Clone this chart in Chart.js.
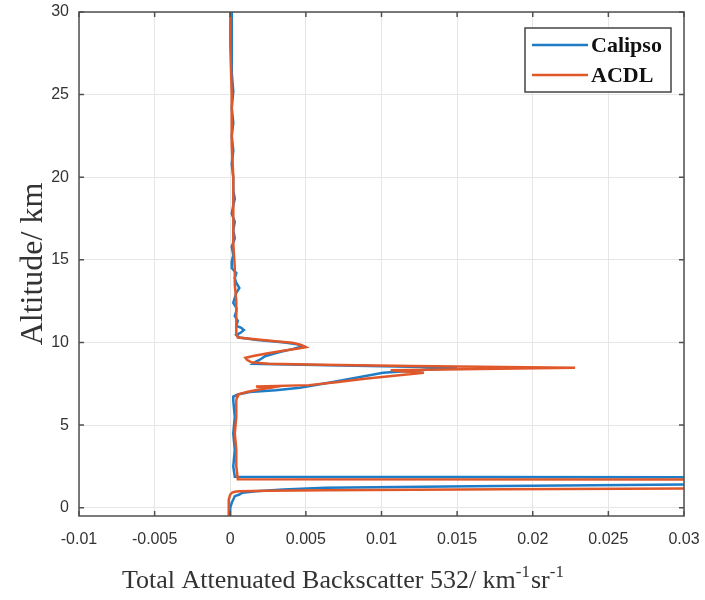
<!DOCTYPE html>
<html>
<head>
<meta charset="utf-8">
<script src="https://cdn.jsdelivr.net/npm/chart.js@4"></script>
<style>
  body { margin: 0; background: #fff; }
</style>
</head>
<body>
<canvas id="profile" width="705" height="600"></canvas>
<script>
// ticks
const xTicks = [-0.01, -0.005, 0, 0.005, 0.01, 0.015, 0.02, 0.025, 0.03];
const xTickLabels = ['-0.01', '-0.005', '0', '0.005', '0.01', '0.015', '0.02', '0.025', '0.03'];
const yTicks = [0, 5, 10, 15, 20, 25, 30];
const yTickLabels = ['0', '5', '10', '15', '20', '25', '30'];

// Calipso profile (altitude km / backscatter)
const calipsoAlt = [-0.5, 0.0, 0.3, 0.5, 0.7, 0.8, 0.91, 1.0, 1.1, 1.21, 1.3, 1.41, 1.55, 1.75, 1.84, 1.87,
  2.5, 3.5, 4.5, 5.5, 6.5, 6.73, 6.85, 7.0, 7.11, 7.26, 7.6, 7.9, 8.17, 8.35, 8.47, 8.55, 8.63, 8.71,
  8.85, 8.93, 9.05, 9.17, 9.3, 9.45, 9.6, 9.78, 9.9, 10.0, 10.15, 10.3, 10.45, 10.6, 10.75, 10.9,
  11.0, 11.3, 11.6, 11.9, 12.1, 12.4, 12.7, 13.0, 13.3, 13.6, 13.9, 14.2, 14.5, 14.9, 15.3, 15.8,
  16.3, 16.8, 17.3, 17.8, 18.3, 18.7, 19.2, 20.0, 20.8, 21.6, 22.5, 23.3, 24.2, 25.2, 26.3, 27.5, 28.7, 30.0];
const calipsoVal = [0.0000, 0.0000, 0.0001, 0.0002, 0.0003, 0.0006, 0.0008, 0.0017, 0.0035, 0.0063, 0.016, 0.030, 0.045, 0.045, 0.032, 0.0003,
  0.0002, 0.0003, 0.0002, 0.0003, 0.0002, 0.0002, 0.0005, 0.0013, 0.0030, 0.0046, 0.0067, 0.0085, 0.0101, 0.0130, 0.0150, 0.0110, 0.0065, 0.0015,
  0.0017, 0.0019, 0.0021, 0.0023, 0.0028, 0.0034, 0.0041, 0.0048, 0.0044, 0.0036, 0.0018, 0.0006, 0.0004, 0.0007, 0.0009, 0.0007,
  0.0004, 0.0005, 0.0003, 0.0004, 0.0004, 0.0002, 0.0003, 0.0004, 0.0006, 0.0004, 0.0003, 0.0004, 0.0001, 0.0001, 0.0002, 0.0001,
  0.0003, 0.0002, 0.0003, 0.0001, 0.0002, 0.0003, 0.0002, 0.0002, 0.0001, 0.0002, 0.0001, 0.0002, 0.0001, 0.0002, 0.0001, 0.0001, 0.0001, 0.0001];

// ACDL profile
const acdlAlt = [-0.5, 0.0, 0.5, 0.8, 0.9, 0.97, 1.0, 1.03, 1.06, 1.12, 1.17, 1.3, 1.5, 1.65, 1.7, 1.73,
  2.5, 3.5, 4.5, 5.5, 6.5, 6.73, 6.85, 7.0, 7.15, 7.26, 7.33, 7.42, 7.6, 7.8, 8.0, 8.17, 8.25, 8.32, 8.4, 8.47,
  8.52, 8.58, 8.65, 8.72, 8.8, 8.95, 9.07, 9.2, 9.35, 9.5, 9.62, 9.72, 9.85, 9.98, 10.08, 10.18, 10.3,
  10.5, 11.5, 12.5, 13.5, 14.5, 16.0, 18.0, 20.0, 22.0, 25.0, 28.0, 30.0];
const acdlVal = [-0.0001, -0.0001, -0.0001, 0.0000, 0.0001, 0.0003, 0.0006, 0.0025, 0.0063, 0.018, 0.030, 0.045, 0.050, 0.045, 0.035, 0.0005,
  0.0004, 0.0004, 0.0003, 0.0004, 0.0004, 0.00045, 0.0005, 0.0011, 0.0019, 0.0027, 0.0017, 0.0052, 0.0070, 0.0089, 0.0110, 0.0128, 0.0115, 0.0106, 0.0165, 0.0228,
  0.018, 0.012, 0.006, 0.0025, 0.0014, 0.0011, 0.0010, 0.0016, 0.0025, 0.0035, 0.0044, 0.0050, 0.0047, 0.0041, 0.0030, 0.0018, 0.0005,
  0.0004, 0.0004, 0.0004, 0.0003, 0.0003, 0.0002, 0.0002, 0.0002, 0.0001, 0.0001, 0.0000, 0.0000];

const toPoints = (alt, val) => alt.map((a, i) => ({ x: val[i], y: a }));

// box, inward ticks, legend and x title drawn like matlab
const boxPlugin = {
  id: 'box',
  afterDraw(chart) {
    const { ctx, chartArea: a, scales: { x, y } } = chart;
    ctx.save();
    ctx.strokeStyle = '#505050';
    ctx.lineWidth = 1.5;
    ctx.beginPath();
    x.ticks.forEach(t => {
      const px = x.getPixelForValue(t.value);
      ctx.moveTo(px, a.bottom); ctx.lineTo(px, a.bottom - 5);
      ctx.moveTo(px, a.top); ctx.lineTo(px, a.top + 5);
    });
    y.ticks.forEach(t => {
      const py = y.getPixelForValue(t.value);
      ctx.moveTo(a.left, py); ctx.lineTo(a.left + 5, py);
      ctx.moveTo(a.right, py); ctx.lineTo(a.right - 5, py);
    });
    ctx.stroke();
    ctx.strokeRect(a.left, a.top, a.right - a.left, a.bottom - a.top);

    // legend
    const lx = 525, ly = 28, lw = 146, lh = 64;
    ctx.fillStyle = '#fff';
    ctx.fillRect(lx, ly, lw, lh);
    ctx.strokeStyle = '#444';
    ctx.lineWidth = 1.5;
    ctx.strokeRect(lx, ly, lw, lh);
    ctx.font = 'bold 22px "Liberation Serif"';
    ctx.textBaseline = 'middle';
    chart.data.datasets.forEach((ds, i) => {
      const yy = ly + 17 + i * 30;
      ctx.strokeStyle = ds.borderColor;
      ctx.lineWidth = 2.5;
      ctx.beginPath();
      ctx.moveTo(lx + 7, yy); ctx.lineTo(lx + 63, yy);
      ctx.stroke();
      ctx.fillStyle = '#111';
      ctx.fillText(ds.label, lx + 66, yy + 1);
    });

    // x axis title with superscripts
    const parts = [['Total Attenuated Backscatter 532/ km', 0], ['-1', 1], ['sr', 0], ['-1', 1]];
    let tx = 122;
    const base = 588;
    ctx.fillStyle = '#333';
    ctx.textBaseline = 'alphabetic';
    parts.forEach(([s, sup]) => {
      ctx.font = sup ? '17px "Liberation Serif"' : '26px "Liberation Serif"';
      ctx.fillText(s, tx, sup ? base - 11 : base);
      tx += ctx.measureText(s).width + (sup ? 1 : 0);
    });
    ctx.restore();
  }
};

new Chart(document.getElementById('profile'), {
  type: 'scatter',
  data: {
    datasets: [
      {
        label: 'Calipso',
        data: toPoints(calipsoAlt, calipsoVal),
        showLine: true,
        borderColor: '#1f7cc6',
        backgroundColor: '#1f7cc6',
        borderWidth: 2.5,
        pointRadius: 0,
        order: 2
      },
      {
        label: 'ACDL',
        data: toPoints(acdlAlt, acdlVal),
        showLine: true,
        borderColor: '#e0582a',
        backgroundColor: '#e0582a',
        borderWidth: 2.5,
        pointRadius: 0,
        order: 1
      }
    ]
  },
  options: {
    responsive: false,
    animation: false,
    layout: { padding: { left: 0, top: 12, right: 21, bottom: 0 } },
    plugins: {
      legend: { display: false },
      tooltip: { enabled: false }
    },
    scales: {
      x: {
        type: 'linear',
        min: -0.01,
        max: 0.03,
        afterBuildTicks: s => { s.ticks = xTicks.map(v => ({ value: v })); },
        afterFit: s => { s.height = 84; s.paddingLeft = 0; s.paddingRight = 0; },
        ticks: {
          callback: (v, i) => xTickLabels[i],
          padding: 14,
          maxRotation: 0,
          color: '#333',
          font: { family: 'Liberation Sans', size: 16 }
        },
        grid: { color: '#e6e6e6', drawTicks: false },
        border: { display: false }
      },
      y: {
        type: 'linear',
        min: -0.5,
        max: 30,
        afterBuildTicks: s => { s.ticks = yTicks.map(v => ({ value: v })); },
        afterFit: s => { s.width = 79; s.paddingTop = 0; s.paddingBottom = 0; },
        ticks: {
          callback: (v, i) => yTickLabels[i],
          padding: 10,
          color: '#333',
          font: { family: 'Liberation Sans', size: 16 }
        },
        grid: { color: '#e6e6e6', drawTicks: false },
        border: { display: false },
        title: {
          display: true,
          text: 'Altitude/ km',
          color: '#333',
          font: { family: 'Liberation Serif', size: 32 },
          padding: { top: 14, bottom: 0 }
        }
      }
    }
  },
  plugins: [boxPlugin]
});
</script>
</body>
</html>
